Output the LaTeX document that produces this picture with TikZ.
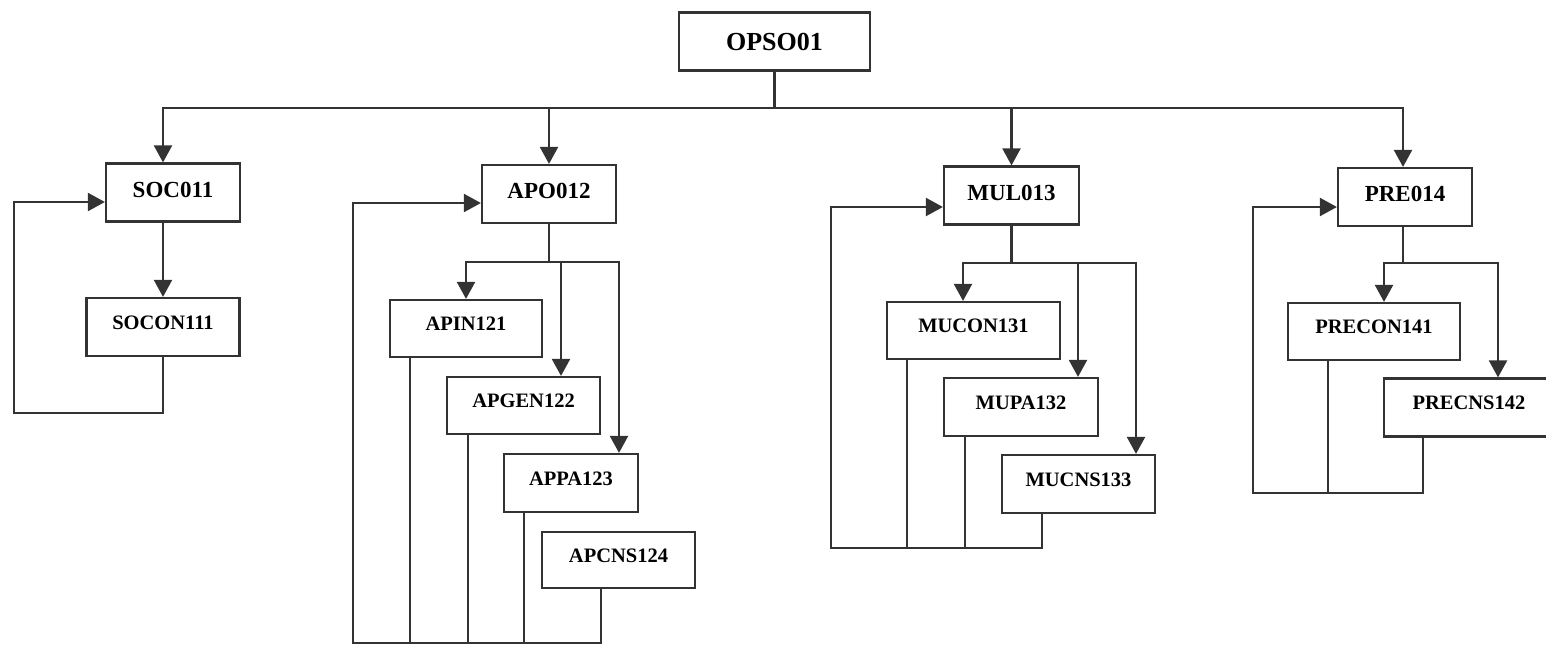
\documentclass[tikz,border=0pt]{standalone}
\usepackage{fontspec}
\setmainfont{Liberation Serif}
\usepackage{tikz}
\usetikzlibrary{positioning}
\usetikzlibrary{arrows.meta}
\colorlet{mydarkgray}{black!80}
\tikzstyle{box_top}=[draw=mydarkgray, line width=2.2pt, inner sep=0pt, minimum width=191pt, minimum height=58pt, font=\fontsize{26}{30}\selectfont\bfseries, text height=17pt, text depth=0pt]
\tikzstyle{box_one}=[draw=mydarkgray, line width=2.2pt, inner sep=0pt, minimum width=134pt, minimum height=58pt, font=\fontsize{23}{27}\selectfont\bfseries, text height=15pt, text depth=6pt]
\tikzstyle{box_two}=[draw=mydarkgray, line width=2.2pt, inner sep=0pt, minimum width=153pt, minimum height=57pt, font=\fontsize{20.5}{24}\selectfont\bfseries, text height=13.4pt, text depth=9pt]
\tikzstyle{connect}=[line width=2.2pt, mydarkgray]
\tikzstyle{connect arrow}=[-{Triangle[length=17pt,width=18pt]}, line width=2.2pt, mydarkgray]

\begin{document}
\begin{tikzpicture}[x=1pt, y=-1pt]
\useasboundingbox (0,0) rectangle (1546,646);

% top level
        \node[box_top] (opso) at (774.5,41.5) {OPSO01};
        % first level
        \node[box_one] (soc) at (173,192.5) {SOC011};
        \node[box_one] (apo) at (549,194) {APO012};
        \node[box_one, minimum width=135pt] (mul) at (1011.5,195.5) {MUL013};
        \node[box_one] (pre) at (1405,197) {PRE014};
        % second level
        \node[box_two, minimum height=58pt] (socon) at (163,327) {SOCON111};

        \node[box_two, minimum width=152pt] (apin) at (466,328.5) {APIN121};
        \node[box_two] (apgen) at (523.5,405.5) {APGEN122};
        \node[box_two, minimum width=134pt, minimum height=58pt] (appa) at (571,483) {APPA123};
        \node[box_two, minimum height=56pt] (apcns) at (618.5,560) {APCNS124};

        \node[box_two, minimum width=173pt] (mucon) at (973.5,330.5) {MUCON131};
        \node[box_two, minimum width=154pt, minimum height=58pt] (mupa) at (1021,407) {MUPA132};
        \node[box_two, minimum height=58pt] (mucns) at (1078.5,484) {MUCNS133};

        \node[box_two, minimum width=172pt] (precon) at (1374,331.5) {PRECON141};
        \node[box_two, minimum width=170pt, minimum height=58pt] (precns) at (1469,407.5) {PRECNS142};

        % bus and branch points
        \coordinate (bus) at (774.5,108);
        \coordinate (apsplit) at (549,262);
        \coordinate (musplit) at (1011.5,263);
        \coordinate (presplit) at (1403,263);
        % return corners
        \coordinate (socret) at (14,413);
        \coordinate (apret) at (353,643);
        \coordinate (muret) at (831,548);
        \coordinate (preret) at (1253,493);

        \begin{scope}[connect]
            \draw (opso.south) -- (bus);
            \draw (apo.south) -- (apsplit);
            \draw (mul.south) -- (musplit);
            \draw (pre.south -| presplit) -- (presplit);

            \draw ([xshift=-56pt]apin.south) |- (apret);
            \draw ([xshift=-55.5pt]apgen.south) |- (apret);
            \draw ([xshift=-47pt]appa.south) |- (apret);

            \draw ([xshift=-66.5pt]mucon.south) |- (muret);
            \draw ([xshift=-56pt]mupa.south) |- (muret);

            \draw ([xshift=-46pt]precon.south) |- (preret);
        \end{scope}

        \begin{scope}[connect arrow]
            \draw (bus) -| (socon |- soc.north);
            \draw (bus) -| (apo.north);
            \draw (bus) -| (mul.north);
            \draw (bus) -| ([xshift=-2pt]pre.north);

            \draw (socon |- soc.south) -- (socon.north);
            \draw (socon.south) |- (socret) |- ([yshift=-9.5pt]soc.west);

            \draw (apsplit) -| (apin.north);
            \draw (apsplit) -| ([xshift=37.5pt]apgen.north);
            \draw (apsplit) -| ([xshift=48pt]appa.north);
            \draw ([xshift=-17.5pt]apcns.south) |- (apret) |- ([yshift=-9pt]apo.west);

            \draw (musplit) -| ([xshift=-10.5pt]mucon.north);
            \draw (musplit) -| ([xshift=57pt]mupa.north);
            \draw (musplit) -| ([xshift=57.5pt]mucns.north);
            \draw ([xshift=-36.5pt]mucns.south) |- (muret) |- ([yshift=-11.5pt]mul.west);

            \draw (presplit) -| ([xshift=10pt]precon.north);
            \draw (presplit) -| ([xshift=29pt]precns.north);
            \draw ([xshift=-46pt]precns.south) |- (preret) |- ([yshift=-10pt]pre.west);
        \end{scope}

\end{tikzpicture}
\end{document}
